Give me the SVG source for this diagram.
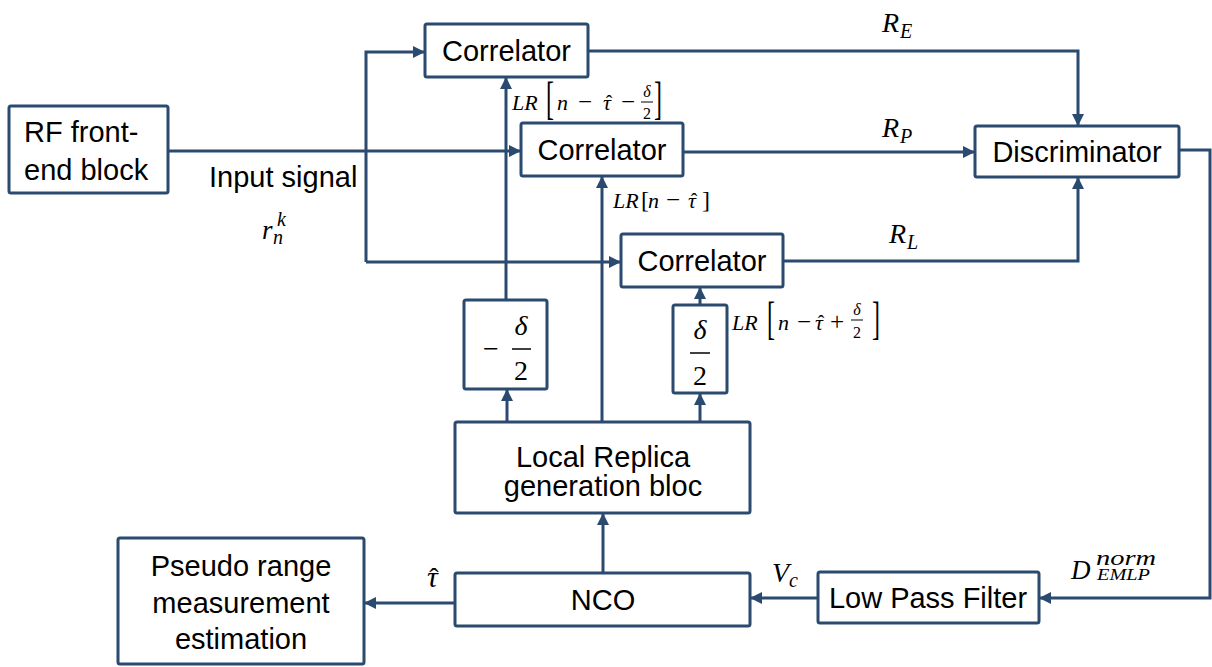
<svg xmlns="http://www.w3.org/2000/svg" width="1212" height="667" viewBox="0 0 1212 667">
<style>
.box{fill:#fff;stroke:#2B4A70;stroke-width:3}
.c{fill:none;stroke:#2B4A70;stroke-width:3}
.t{font-family:"Liberation Sans",Arial,sans-serif;font-size:29px;fill:#000}
.m{font-family:"Liberation Serif","Times New Roman",serif;font-style:italic;fill:#000}
.r{font-family:"Liberation Serif","Times New Roman",serif;font-style:normal;fill:#000}
.bar{stroke:#000;stroke-width:1.5}
</style>
<defs>
<marker id="ah" markerUnits="userSpaceOnUse" markerWidth="13" markerHeight="13" refX="11" refY="6" orient="auto">
<path d="M0,0 L12,6 L0,12 z" fill="#2B4A70"/>
</marker>
</defs>

<g id="connectors">
<path class="c" d="M168,151 H520" marker-end="url(#ah)"/>
<path class="c" d="M366,262 V52 H424" marker-end="url(#ah)"/>
<path class="c" d="M366,262 H620" marker-end="url(#ah)"/>
<path class="c" d="M588,51 H1078 V125" marker-end="url(#ah)"/>
<path class="c" d="M683,152 H974" marker-end="url(#ah)"/>
<path class="c" d="M783,261 H1078 V178" marker-end="url(#ah)"/>
<path class="c" d="M1179,150 H1210 V598 H1040" marker-end="url(#ah)"/>
<path class="c" d="M818,598 H751" marker-end="url(#ah)"/>
<path class="c" d="M455,603 H365" marker-end="url(#ah)"/>
<path class="c" d="M603,573 V514" marker-end="url(#ah)"/>
<path class="c" d="M507,422 V390" marker-end="url(#ah)"/>
<path class="c" d="M506,300 V78" marker-end="url(#ah)"/>
<path class="c" d="M602,422 V177" marker-end="url(#ah)"/>
<path class="c" d="M700,422 V394" marker-end="url(#ah)"/>
<path class="c" d="M700,305 V288" marker-end="url(#ah)"/>
</g>

<g id="rf">
<rect class="box" x="9" y="106" width="159" height="87" rx="2"/>
<text class="t" x="24" y="142">RF front-</text>
<text class="t" x="24" y="180">end block</text>
</g>

<g id="corrE">
<rect class="box" x="425" y="24" width="163" height="53" rx="2"/>
<text class="t" x="506.5" y="61" text-anchor="middle">Correlator</text>
</g>

<g id="corrP">
<rect class="box" x="521" y="123" width="162" height="53" rx="2"/>
<text class="t" x="602" y="160" text-anchor="middle">Correlator</text>
</g>

<g id="corrL">
<rect class="box" x="621" y="234" width="162" height="53" rx="2"/>
<text class="t" x="702" y="271" text-anchor="middle">Correlator</text>
</g>

<g id="disc">
<rect class="box" x="975" y="126" width="204" height="51" rx="2"/>
<text class="t" x="1077" y="162" text-anchor="middle">Discriminator</text>
</g>

<g id="negHalf">
<rect class="box" x="464" y="300" width="83" height="89" rx="2"/>
<text class="r" x="491" y="358" font-size="28" text-anchor="middle">−</text>
<text class="m" x="521" y="335" font-size="28" text-anchor="middle">δ</text>
<line class="bar" x1="512" y1="349" x2="531" y2="349"/>
<text class="r" x="521" y="380" font-size="28" text-anchor="middle">2</text>
</g>

<g id="posHalf">
<rect class="box" x="673" y="305" width="54" height="88" rx="2"/>
<text class="m" x="700" y="339" font-size="28" text-anchor="middle">δ</text>
<line class="bar" x1="690" y1="353" x2="710" y2="353"/>
<text class="r" x="700" y="385" font-size="28" text-anchor="middle">2</text>
</g>

<g id="lrg">
<rect class="box" x="455" y="422" width="295" height="91" rx="2"/>
<text class="t" x="603" y="467" text-anchor="middle">Local Replica</text>
<text class="t" x="603" y="496" text-anchor="middle">generation bloc</text>
</g>

<g id="nco">
<rect class="box" x="455" y="573" width="295" height="53" rx="2"/>
<text class="t" x="603" y="610" text-anchor="middle">NCO</text>
</g>

<g id="lpf">
<rect class="box" x="818" y="572" width="221" height="51" rx="2"/>
<text class="t" x="928" y="608" text-anchor="middle">Low Pass Filter</text>
</g>

<g id="pr">
<rect class="box" x="118" y="538" width="246" height="126" rx="2"/>
<text class="t" x="241" y="576" text-anchor="middle">Pseudo range</text>
<text class="t" x="241" y="613" text-anchor="middle">measurement</text>
<text class="t" x="241" y="649" text-anchor="middle">estimation</text>
</g>

<g id="labels">
<text class="t" x="209" y="187">Input signal</text>
<text class="m" x="262" y="239" font-size="27">r</text>
<text class="m" x="273" y="244" font-size="20">n</text>
<text class="m" x="277" y="226" font-size="20">k</text>

<text class="m" x="882" y="32" font-size="28">R</text>
<text class="m" x="900" y="38" font-size="20">E</text>
<text class="m" x="882" y="137" font-size="28">R</text>
<text class="m" x="900" y="143" font-size="20">P</text>
<text class="m" x="889" y="243" font-size="28">R</text>
<text class="m" x="907" y="249" font-size="20">L</text>

<text class="m" x="427" y="587" font-size="30">τ<tspan class="r" x="434" text-anchor="middle" font-size="28">ˆ</tspan></text>
<text class="m" x="772" y="582" font-size="28">V</text>
<text class="m" x="789" y="587" font-size="20">c</text>
<text class="m" x="1071" y="579" font-size="27">D</text>
<text class="m" x="1096" y="565" font-size="22" textLength="60" lengthAdjust="spacingAndGlyphs">norm</text>
<text class="m" x="1097" y="580" font-size="17" textLength="53" lengthAdjust="spacingAndGlyphs">EMLP</text>

<text class="m" x="512" y="110" font-size="22">LR<tspan x="557">n</tspan><tspan class="r" x="578" font-size="25">−</tspan><tspan x="603">τ</tspan><tspan class="r" x="609" text-anchor="middle" font-size="20">ˆ</tspan><tspan class="r" x="621" text-anchor="start" font-size="25">−</tspan></text>
<text class="r" font-size="24" transform="translate(546,114) scale(1,1.9)">[</text>
<text class="m" x="647" y="97" font-size="16" text-anchor="middle">δ</text>
<line class="bar" x1="641" y1="102" x2="653" y2="102" style="stroke-width:1"/>
<text class="r" x="647" y="119" font-size="16" text-anchor="middle">2</text>
<text class="r" font-size="24" transform="translate(654,114) scale(1,1.9)">]</text>

<text class="m" x="613" y="208" font-size="22">LR<tspan class="r" x="641" font-size="24">[</tspan><tspan x="648">n</tspan><tspan class="r" x="666" font-size="25">−</tspan><tspan x="688">τ</tspan><tspan class="r" x="694" text-anchor="middle" font-size="20">ˆ</tspan><tspan class="r" x="702" text-anchor="start" font-size="24">]</tspan></text>

<text class="m" x="732" y="330" font-size="22">LR<tspan x="778">n</tspan><tspan class="r" x="797" font-size="25">−</tspan><tspan x="815">τ</tspan><tspan class="r" x="821" text-anchor="middle" font-size="20">ˆ</tspan><tspan class="r" x="830" text-anchor="start" font-size="25">+</tspan></text>
<text class="r" font-size="24" transform="translate(767,334) scale(1,1.9)">[</text>
<text class="m" x="857" y="315" font-size="16" text-anchor="middle">δ</text>
<line class="bar" x1="851" y1="320" x2="863" y2="320" style="stroke-width:1"/>
<text class="r" x="857" y="338" font-size="16" text-anchor="middle">2</text>
<text class="r" font-size="24" transform="translate(872,334) scale(1,1.9)">]</text>
</g>
</svg>
